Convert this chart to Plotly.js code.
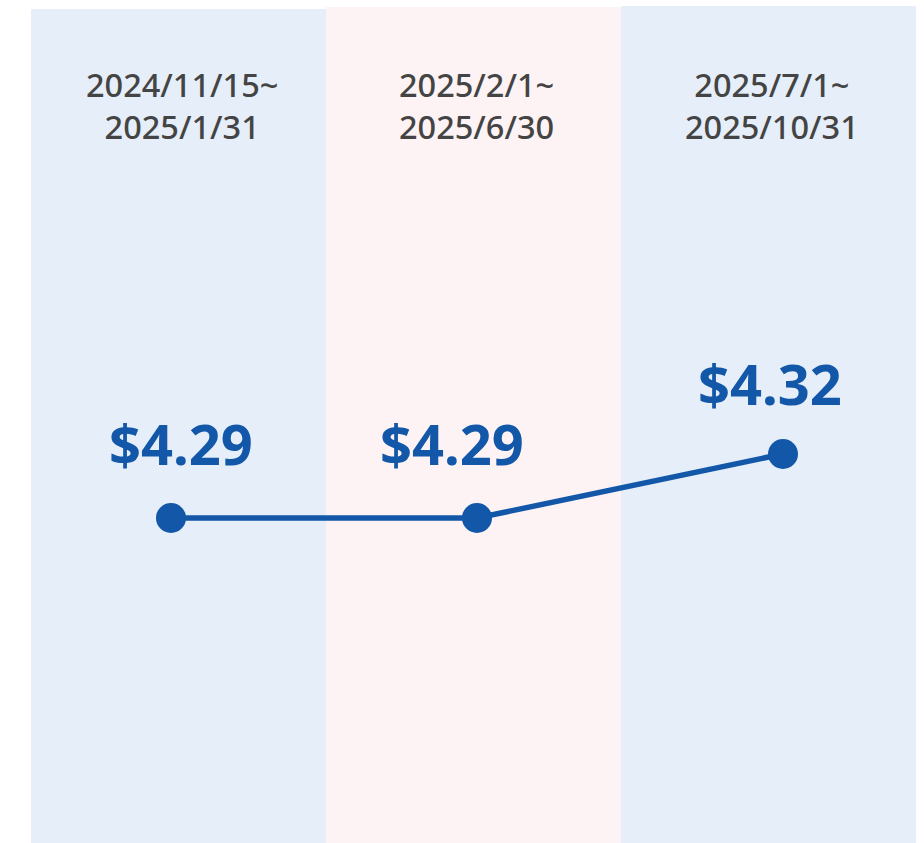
<!DOCTYPE html>
<html>
<head>
<meta charset="utf-8">
<script src="https://cdn.plot.ly/plotly-3.0.1.min.js"></script>
<style>html,body{margin:0;padding:0;background:#fff;}#chart{width:924px;height:843px;}</style>
</head>
<body>
<div id="chart"></div>
<script>
// Data
const periods = ["2024/11/15~<br>2025/1/31", "2025/2/1~<br>2025/6/30", "2025/7/1~<br>2025/10/31"];
const prices = [4.29, 4.29, 4.32];
const priceLabels = ["$4.29", "$4.29", "$4.32"];
const panelColors = ["#E6EEF9", "#FDF3F4", "#E6EEF9"];

const W = 924, H = 843;
const blue = "#1257A8";

// Panel geometry (pixels)
const panelLeft = 31, panelW = 295;
const panelTops = [9, 7, 6];
// Offsets for value labels (pixels)
const labelDx = [10, -25, -13];
const labelDy = [75, 75, 71];

const xs = prices.map((_, i) => i);

const shapes = panelColors.map((c, i) => ({
  type: "rect", xref: "paper", yref: "paper", layer: "below",
  x0: (panelLeft + i * panelW) / W, x1: (panelLeft + (i + 1) * panelW) / W,
  y0: 0, y1: 1 - panelTops[i] / H,
  fillcolor: c, line: { width: 0 }
}));

const annotations = [];
periods.forEach((p, i) => {
  annotations.push({
    xref: "paper", yref: "paper",
    x: (panelLeft + (i + 0.5) * panelW + 3) / W, y: 1 - 105 / H,
    text: p, showarrow: false, xanchor: "center", yanchor: "middle",
    font: { family: "Noto Sans, sans-serif", size: 32.5, color: "#444444", weight: 500 }
  });
});
prices.forEach((v, i) => {
  annotations.push({
    xref: "x", yref: "y", x: xs[i], y: v,
    xshift: labelDx[i], yshift: labelDy[i],
    text: "<b>" + priceLabels[i] + "</b>", showarrow: false,
    xanchor: "center", yanchor: "middle",
    font: { family: "Noto Sans, sans-serif", size: 56, color: blue }
  });
});

const trace = {
  x: xs, y: prices, type: "scatter", mode: "lines+markers",
  line: { color: blue, width: 5.5 },
  marker: { color: blue, size: 30 },
  hoverinfo: "skip", cliponaxis: false
};

const layout = {
  width: W, height: H,
  margin: { l: 0, r: 0, t: 0, b: 0 },
  paper_bgcolor: "#ffffff", plot_bgcolor: "rgba(0,0,0,0)",
  showlegend: false,
  xaxis: { range: [-171 / 306, (W - 171) / 306], visible: false, fixedrange: true },
  yaxis: { range: [4.29 - (H - 518) / 2133.3, 4.29 + 518 / 2133.3], visible: false, fixedrange: true },
  shapes: shapes,
  annotations: annotations
};

Plotly.newPlot("chart", [trace], layout, { displayModeBar: false, staticPlot: true });
</script>
</body>
</html>
